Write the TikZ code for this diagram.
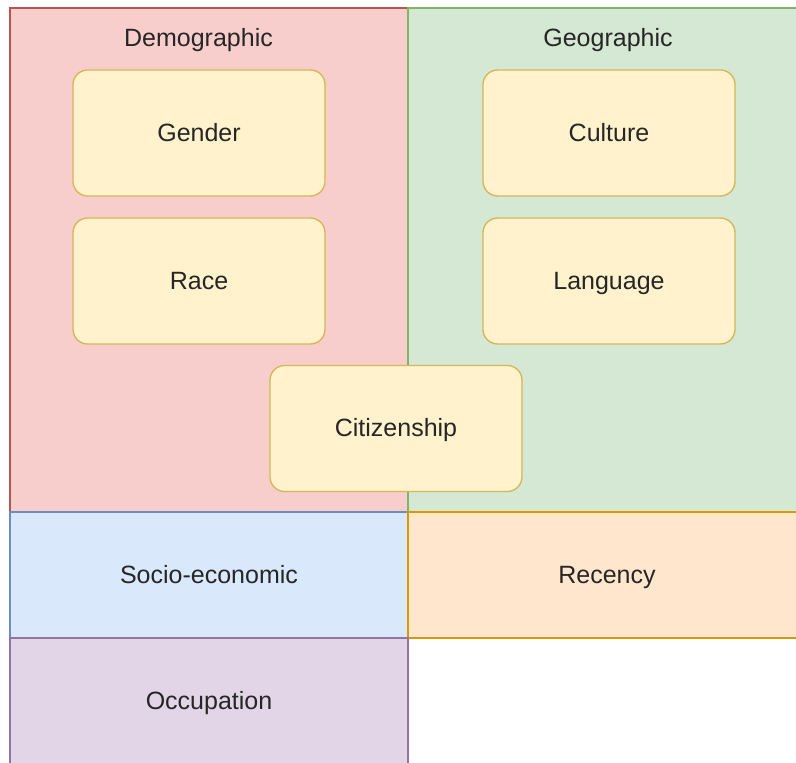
\documentclass[tikz,border=0pt]{standalone}
\usepackage{fontspec}
\setmainfont{Liberation Sans}
\usepackage{tikz}

\definecolor{redfill}{HTML}{F8CECC}\definecolor{redline}{HTML}{B85450}
\definecolor{greenfill}{HTML}{D5E8D4}\definecolor{greenline}{HTML}{82B366}
\definecolor{bluefill}{HTML}{DAE8FC}\definecolor{blueline}{HTML}{6C8EBF}
\definecolor{orangefill}{HTML}{FFE6CC}\definecolor{orangeline}{HTML}{D79B00}
\definecolor{purplefill}{HTML}{E1D5E7}\definecolor{purpleline}{HTML}{9673A6}
\definecolor{yellowfill}{HTML}{FFF2CC}\definecolor{yellowline}{HTML}{D6B656}

\tikzset{
  area/.style={draw, line width=1pt, minimum width=298.5pt, inner sep=0pt},
  item/.style={draw=yellowline, fill=yellowfill, line width=1pt, rounded corners=11pt,
    minimum width=189pt, minimum height=94.5pt, inner sep=0pt},
}

\begin{document}
\begin{tikzpicture}[x=0.75pt, y=-0.75pt, font=\fontsize{18.75}{22}\selectfont, text=black!85,
    every node/.append style={text height=15pt, text depth=2.5pt}]
        \useasboundingbox (0,0) rectangle (796,763);
        \clip (0,0) rectangle (796,763);
        % big areas
        \node [area, draw=redline, fill=redfill, minimum height=378pt] (demographic) at (209,260) {};
        \node [area, draw=greenline, fill=greenfill, minimum height=378pt] (geographic) at (607,260) {};
        \node [area, draw=blueline, fill=bluefill, minimum height=94.5pt] (socio) at (209,575) {Socio-economic};
        \node [area, draw=orangeline, fill=orangefill, minimum height=94.5pt] (recency) at (607,575) {Recency};
        \node [area, draw=purpleline, fill=purplefill, minimum height=94.5pt] (occupation) at (209,701) {Occupation};
        \node (demotitle) at (198.5,38) {Demographic};
        \node (geotitle) at (608,38) {Geographic};
        % items
        \node [item] (gender) at (199,133) {Gender};
        \node [item] (race) at (199,281) {Race};
        \node [item] (culture) at (609,133) {Culture};
        \node [item] (language) at (609,281) {Language};
        \node [item] (citizenship) at (396,428.5) {Citizenship};
    \end{tikzpicture}
\end{document}
